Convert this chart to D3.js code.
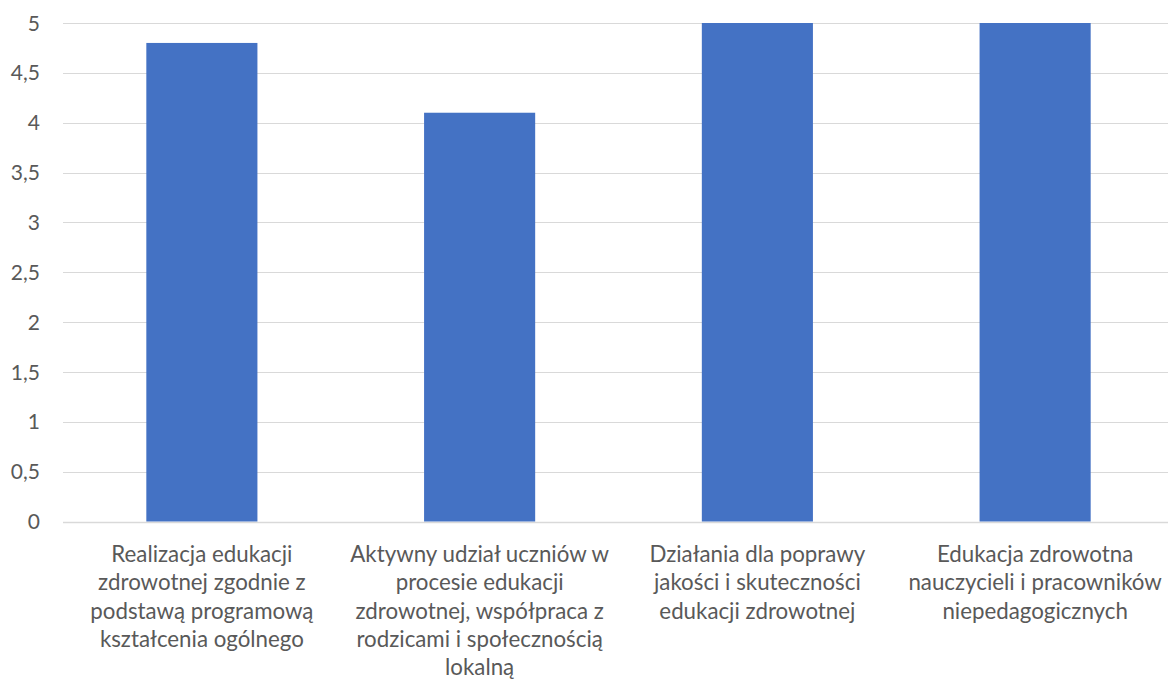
<!DOCTYPE html>
<html>
<head>
<meta charset="utf-8">
<script src="https://cdn.jsdelivr.net/npm/d3@7"></script>
<style>
  html, body { margin: 0; padding: 0; background: #fff; }
  svg { display: block; }
  text { font-family: Lato, "Open Sans", sans-serif; fill: #595959; }
</style>
</head>
<body>
<svg id="chart" width="1168" height="682"></svg>
<script>
// Category labels, pre-wrapped into lines
const categories = [
  "Realizacja edukacji zdrowotnej zgodnie z podstawą programową kształcenia ogólnego",
  "Aktywny udział uczniów w procesie edukacji zdrowotnej, współpraca z rodzicami i społecznością lokalną",
  "Działania dla poprawy jakości i skuteczności edukacji zdrowotnej",
  "Edukacja zdrowotna nauczycieli i pracowników niepedagogicznych"
];
const categoryLines = [
  ["Realizacja edukacji", "zdrowotnej zgodnie z", "podstawą programową", "kształcenia ogólnego"],
  ["Aktywny udział uczniów w", "procesie edukacji", "zdrowotnej, współpraca z", "rodzicami i społecznością", "lokalną"],
  ["Działania dla poprawy", "jakości i skuteczności", "edukacji zdrowotnej"],
  ["Edukacja zdrowotna", "nauczycieli i pracowników", "niepedagogicznych"]
];
const values = [4.8, 4.1, 5, 5];
const yTicks = [0, 0.5, 1, 1.5, 2, 2.5, 3, 3.5, 4, 4.5, 5];
const yTickLabels = ["0", "0,5", "1", "1,5", "2", "2,5", "3", "3,5", "4", "4,5", "5"];

const svg = d3.select("#chart");
const plotLeft = 63, plotRight = 1174, plotTop = 23, plotBottom = 521.5;

const x = d3.scaleBand()
  .domain(categories)
  .range([plotLeft, plotRight])
  .paddingInner(0.6)
  .paddingOuter(0.3);

const y = d3.scaleLinear().domain([0, 5]).range([plotBottom, plotTop]);

// Horizontal gridlines
svg.append("g")
  .selectAll("line")
  .data(yTicks)
  .join("line")
  .attr("x1", plotLeft)
  .attr("x2", 1168)
  .attr("y1", d => Math.round(y(d)) + 0.5)
  .attr("y2", d => Math.round(y(d)) + 0.5)
  .attr("stroke", "#d9d9d9")
  .attr("stroke-width", d => d === 0 ? 1.5 : 1.2);

// Y-axis labels
svg.append("g")
  .selectAll("text")
  .data(yTicks)
  .join("text")
  .attr("x", 40)
  .attr("y", d => y(d))
  .attr("dy", "0.36em")
  .attr("text-anchor", "end")
  .style("font-size", "21px")
  .text((d, i) => yTickLabels[i]);

// Bars
svg.append("g")
  .selectAll("rect")
  .data(values)
  .join("rect")
  .attr("x", (d, i) => x(categories[i]))
  .attr("width", x.bandwidth())
  .attr("y", d => y(d))
  .attr("height", d => y(0) - y(d))
  .attr("fill", "#4472c4");

// Category labels
const lineHeight = 28.3;
const labels = svg.append("g")
  .selectAll("text")
  .data(categoryLines)
  .join("text")
  .attr("text-anchor", "middle")
  .style("font-size", "22.3px")
  .attr("transform", (d, i) => `translate(${x(categories[i]) + x.bandwidth() / 2},562)`);

labels.selectAll("tspan")
  .data(d => d)
  .join("tspan")
  .attr("x", 0)
  .attr("y", (d, i) => i * lineHeight)
  .text(d => d);
</script>
</body>
</html>
